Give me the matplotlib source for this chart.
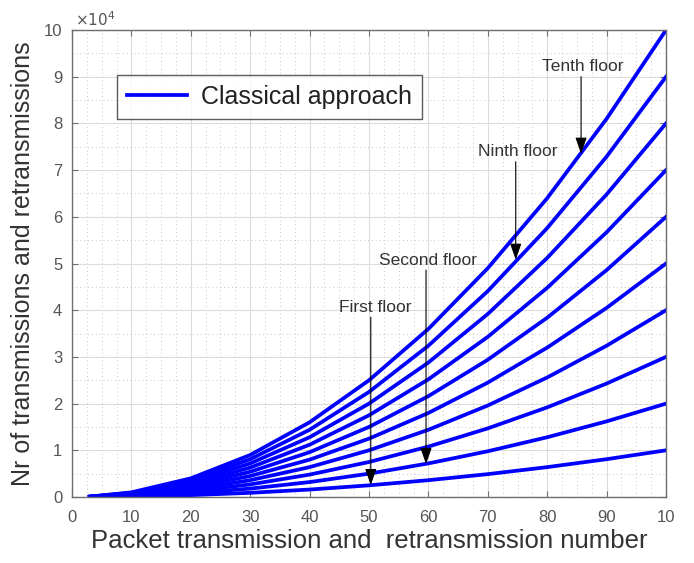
import matplotlib
matplotlib.use("Agg")
import matplotlib.pyplot as plt
from matplotlib.ticker import MultipleLocator, FuncFormatter

plt.rcParams['font.family'] = ['Liberation Sans', 'DejaVu Sans']

# packet transmission / retransmission number
packets = [3, 10, 20, 30, 40, 50, 60, 70, 80, 90, 100]

# number of transmissions and retransmissions, one list per floor
floor1 = [9, 100, 400, 900, 1600, 2500, 3600, 4900, 6400, 8100, 10000]
floor2 = [18, 200, 800, 1800, 3200, 5000, 7200, 9800, 12800, 16200, 20000]
floor3 = [27, 300, 1200, 2700, 4800, 7500, 10800, 14700, 19200, 24300, 30000]
floor4 = [36, 400, 1600, 3600, 6400, 10000, 14400, 19600, 25600, 32400, 40000]
floor5 = [45, 500, 2000, 4500, 8000, 12500, 18000, 24500, 32000, 40500, 50000]
floor6 = [54, 600, 2400, 5400, 9600, 15000, 21600, 29400, 38400, 48600, 60000]
floor7 = [63, 700, 2800, 6300, 11200, 17500, 25200, 34300, 44800, 56700, 70000]
floor8 = [72, 800, 3200, 7200, 12800, 20000, 28800, 39200, 51200, 64800, 80000]
floor9 = [81, 900, 3600, 8100, 14400, 22500, 32400, 44100, 57600, 72900, 90000]
floor10 = [90, 1000, 4000, 9000, 16000, 25000, 36000, 49000, 64000, 81000, 100000]
floors = [floor1, floor2, floor3, floor4, floor5, floor6, floor7, floor8, floor9, floor10]

x_ticks = [0, 10, 20, 30, 40, 50, 60, 70, 80, 90, 100]
x_ticklabels = ['0', '10', '20', '30', '40', '50', '60', '70', '80', '90', '10']

# (label, text position, arrow start, arrow tip)
notes = [
    ('Tenth floor', (85.9, 92100), (85.7, 90000), (85.7, 73500)),
    ('Ninth floor', (75.0, 73900), (74.7, 71800), (74.7, 50800)),
    ('Second floor', (60.0, 50700), (59.6, 48600), (59.6, 7050)),
    ('First floor', (51.0, 40600), (50.3, 38500), (50.3, 2550)),
]

fig = plt.figure(figsize=(6.94, 5.63), dpi=100)
ax = fig.add_axes([0.1037, 0.1172, 0.8560, 0.8295])

for i, f in enumerate(floors):
    ax.plot(packets, f, color='#0000ff', linewidth=2.7,
            label='Classical approach' if i == 0 else None)

ax.set_xlim(0, 100)
ax.set_ylim(0, 100000)
ax.set_xticks(x_ticks)
ax.set_xticklabels(x_ticklabels)
ax.yaxis.set_major_locator(MultipleLocator(10000))
ax.yaxis.set_major_formatter(FuncFormatter(lambda v, p: '%d' % round(v / 10000)))
ax.xaxis.set_minor_locator(MultipleLocator(2.5))
ax.yaxis.set_minor_locator(MultipleLocator(5000))

ax.grid(which='major', color='#dcdcdc', linewidth=0.8, linestyle='-')
ax.grid(which='minor', color='#c8c8c8', linewidth=0.7, linestyle=(0, (1, 3)))
ax.set_axisbelow(True)

for s in ax.spines.values():
    s.set_color('#6e6e6e')
    s.set_linewidth(1.0)
ax.tick_params(which='major', direction='in', length=4, color='#6e6e6e',
               top=True, right=True, labelsize=12, labelcolor='#555555')
ax.tick_params(axis='x', which='major', pad=9)
ax.tick_params(axis='y', which='major', pad=7)
ax.tick_params(which='minor', length=0)

ax.set_xlabel('Packet transmission and  retransmission number', fontsize=18.5,
              color='#333333', labelpad=3)
ax.set_ylabel('Nr of transmissions and retransmissions', fontsize=18,
              color='#333333', labelpad=6)

ax.text(0.005, 1.002, r'$\times10^4$', transform=ax.transAxes, fontsize=11,
        color='#555555', ha='left', va='bottom')

for label, txt, start, tip in notes:
    ax.text(txt[0], txt[1], label, ha='center', va='center',
            fontsize=12.5, color='#333333')
    ax.annotate('', xy=tip, xytext=start,
                arrowprops=dict(arrowstyle='-|>,head_length=1.0,head_width=0.35',
                                color='black', linewidth=0.8,
                                shrinkA=0, shrinkB=0))

leg = ax.legend(loc='upper left', bbox_to_anchor=(0.0758, 0.904), fontsize=18,
                frameon=True, fancybox=False, edgecolor='#333333',
                handlelength=2.4, borderpad=0.4, handletextpad=0.55,
                borderaxespad=0)
leg.get_frame().set_linewidth(1.0)
for t in leg.get_texts():
    t.set_color('#222222')

fig.savefig('out.png', dpi=100, facecolor='white')
